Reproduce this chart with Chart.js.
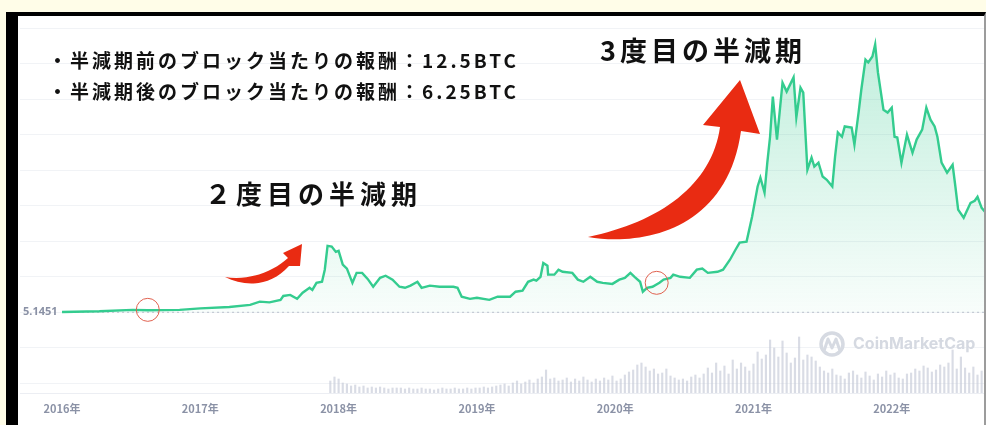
<!DOCTYPE html>
<html>
<head>
<meta charset="utf-8">
<script src="https://cdn.jsdelivr.net/npm/chart.js@4.4.1/dist/chart.umd.min.js"></script>
<style>
html, body { margin: 0; padding: 0; }
body {
    width: 986px; height: 425px; overflow: hidden; position: relative;
    background: #fffde8;
    font-family: "Noto Sans CJK JP", "Noto Sans", sans-serif;
}
#frame {
    position: absolute; left: 6px; top: 12px; width: 966px; height: 430px;
    background: #fff;
    border-left: 12px solid #000; border-top: 4px solid #000; border-right: 2px solid #9c9c9c;
}
#wrap { position: absolute; left: 18px; top: 16px; width: 966px; height: 409px; }
.note { position: absolute; white-space: nowrap; color: #111; font-weight: 700; line-height: 1; }
.reward { left: 48px; font-size: 19px; letter-spacing: 3px; }
#svg { position: absolute; left: 0; top: 0; pointer-events: none; }
#cmc { position: absolute; left: 853px; top: 335px; font-family: Inter, "Noto Sans", sans-serif;
       font-size: 16px; font-weight: 700; color: #d5d9e1; line-height: 1; }
</style>
</head>
<body>
<div id="frame"></div>
<div id="wrap"><canvas id="priceChart" width="966" height="409"></canvas></div>

<svg id="svg" width="986" height="425">
    <!-- 2度目 arrow -->
    <path d="M225,277 C245,287 270,287 289,266 L300,266 L302,244 L283,253 L288,258 C274,271 250,281 225,277 Z" fill="#e92b12"/>
    <!-- 3度目 arrow -->
    <path d="M588,237 C640,246 727,232 741,131 L760,134 L740,80 L703,125 L720,127 C712,185 660,222 588,237 Z" fill="#e92b12"/>
    <!-- watermark logo -->
    <circle cx="832" cy="344" r="11" fill="none" stroke="#d6dae2" stroke-width="3.5"/>
    <polyline points="824,351 828,339 832,348 836,339 840,351" fill="none" stroke="#d6dae2" stroke-width="3" stroke-linejoin="round"/>
</svg>

<div class="note reward" style="top:50px">・半減期前のブロック当たりの報酬：12.5BTC</div>
<div class="note reward" style="top:81px">・半減期後のブロック当たりの報酬：6.25BTC</div>
<div class="note" style="left:205px; top:180px; font-size:26px; letter-spacing:5px">２度目の半減期</div>
<div class="note" style="left:600px; top:36px; font-size:27px; letter-spacing:4px">3度目の半減期</div>
<div id="cmc">CoinMarketCap</div>

<script>
// x軸（年）
const yearTicks = [2016, 2017, 2018, 2019, 2020, 2021, 2022];
const yearLabels = ['2016年', '2017年', '2018年', '2019年', '2020年', '2021年', '2022年'];

// y軸グリッド（目盛り単位）と基準線
const gridLevels = [0, 1, 2, 3, 4, 5, 6, 7, 8, 9, 10];
const baseValue = 2;
const baseLabel = '5.1451';

// 価格ライン
const priceDates = [
    2016.00, 2016.27, 2016.51, 2016.62, 2016.85, 2017.00, 2017.21, 2017.36, 2017.43, 2017.50,
    2017.58, 2017.60, 2017.65, 2017.70, 2017.74, 2017.79, 2017.81, 2017.84, 2017.88, 2017.90,
    2017.92, 2017.95, 2017.98, 2018.00, 2018.03, 2018.06, 2018.10, 2018.13, 2018.17, 2018.21,
    2018.25, 2018.30, 2018.34, 2018.39, 2018.44, 2018.48, 2018.52, 2018.57, 2018.60, 2018.66,
    2018.73, 2018.83, 2018.86, 2018.89, 2018.95, 2019.00, 2019.09, 2019.15, 2019.24, 2019.28,
    2019.33, 2019.37, 2019.41, 2019.43, 2019.46, 2019.48, 2019.51, 2019.515, 2019.56, 2019.59,
    2019.62, 2019.69, 2019.73, 2019.77, 2019.82, 2019.87, 2019.91, 2019.98, 2020.03, 2020.07,
    2020.11, 2020.14, 2020.18, 2020.20, 2020.23, 2020.27, 2020.32, 2020.35, 2020.40, 2020.42,
    2020.47, 2020.54, 2020.59, 2020.63, 2020.67, 2020.74, 2020.78, 2020.83, 2020.87, 2020.90,
    2020.95, 2020.99, 2021.03, 2021.05, 2021.08, 2021.10, 2021.12, 2021.14, 2021.17, 2021.21,
    2021.24, 2021.29, 2021.31, 2021.34, 2021.36, 2021.39, 2021.42, 2021.44, 2021.47, 2021.50,
    2021.53, 2021.57, 2021.59, 2021.61, 2021.64, 2021.66, 2021.71, 2021.73, 2021.76, 2021.78,
    2021.81, 2021.83, 2021.86, 2021.88, 2021.90, 2021.94, 2021.97, 2022.00, 2022.02, 2022.04,
    2022.07, 2022.11, 2022.15, 2022.18, 2022.22, 2022.25, 2022.28, 2022.31, 2022.33, 2022.36,
    2022.40, 2022.44, 2022.46, 2022.48, 2022.52, 2022.54, 2022.57, 2022.60, 2022.62, 2022.65,
    2022.68
];
const priceValues = [
    2.01, 2.03, 2.07, 2.06, 2.07, 2.11, 2.15, 2.21, 2.30, 2.28,
    2.35, 2.46, 2.49, 2.38, 2.55, 2.69, 2.63, 2.83, 2.86, 3.20,
    3.87, 3.85, 3.70, 3.73, 3.34, 3.23, 2.83, 3.11, 3.11, 2.94,
    2.72, 2.97, 3.03, 2.92, 2.72, 2.69, 2.75, 2.86, 2.69, 2.75,
    2.72, 2.72, 2.69, 2.44, 2.38, 2.41, 2.35, 2.44, 2.44, 2.58,
    2.61, 2.86, 2.92, 2.89, 3.00, 3.39, 3.31, 3.06, 3.06, 3.20,
    3.14, 3.11, 2.92, 2.86, 3.00, 2.86, 2.83, 2.80, 2.92, 2.97,
    3.11, 3.00, 2.86, 2.58, 2.69, 2.72, 2.83, 2.92, 2.97, 3.06,
    3.00, 2.97, 3.20, 3.23, 3.11, 3.14, 3.20, 3.48, 3.76, 3.96,
    3.99, 4.69, 5.54, 5.79, 5.37, 6.21, 6.94, 8.07, 6.86, 8.46,
    8.21, 8.61, 7.49, 8.32, 8.18, 6.01, 6.35, 6.10, 6.21, 5.82,
    5.73, 5.54, 6.38, 7.06, 6.94, 7.23, 7.20, 6.72, 7.62, 8.27,
    9.11, 9.03, 9.20, 9.54, 8.75, 7.70, 7.62, 7.76, 6.94, 6.92,
    6.21, 7.00, 6.49, 6.86, 7.14, 7.76, 7.42, 7.23, 6.94, 6.21,
    5.93, 6.15, 5.54, 4.89, 4.66, 4.83, 5.08, 5.14, 5.25, 4.94,
    4.80
];

// 半減期（赤丸）
const halvingDates = [2016.62, 2020.30];
const halvingValues = [2.07, 2.83];

// 出来高
const volumeStart = 2017.94;
const volumeStep = 0.03;
const volumeValues = [
    12, 16, 14, 10,
    9, 7, 8, 6, 7, 5, 6, 5, 6, 5, 4, 5, 5,
    5, 4, 5, 4, 4, 5, 4, 4, 3, 4, 5, 4, 4, 5, 4, 4, 5, 4, 5, 5, 6, 5, 6, 7,
    8, 9, 7, 10, 12, 9, 11, 13, 10, 14,
    16, 23, 14, 15, 12,
    13, 15, 11, 14, 12, 16, 13, 11, 14, 12, 15, 13, 17, 12, 14,
    18, 21, 23, 28, 30, 26, 22, 24, 19,
    20, 24, 17, 15, 13, 14, 12, 16, 18, 15, 19,
    25, 20, 30, 22, 27, 19, 33,
    24, 30, 26, 22, 29,
    41, 34, 38, 53, 45, 36, 52, 40, 30, 35,
    56, 33, 38, 36, 32,
    26, 22, 20, 24, 18,
    17, 14, 20, 22, 18, 15, 21, 17, 13, 19, 16, 22, 18, 20, 15, 14, 19,
    20, 24, 22, 27, 25, 21, 23, 28, 26, 30, 43,
    24, 36, 25, 20, 26, 18, 22, 19, 23, 17
];

const xMin = 2015.696;
const xMax = 2022.667;

var ctx = document.getElementById('priceChart');
var priceChart = new Chart(ctx, {
    type: 'line',
    data: {
        datasets: [{
            // 赤丸
            data: halvingDates.map(function (d, i) { return { x: d, y: halvingValues[i] }; }),
            showLine: false,
            pointRadius: 11.5,
            pointBorderWidth: 1,
            pointBorderColor: '#e0614f',
            pointBackgroundColor: 'rgba(0,0,0,0)',
            order: 0
        }, {
            // 価格
            data: priceDates.map(function (d, i) { return { x: d, y: priceValues[i] }; }),
            borderColor: '#34cc8f',
            borderWidth: 2.4,
            pointRadius: 0,
            tension: 0,
            fill: { value: baseValue },
            backgroundColor: function (context) {
                const c = context.chart;
                if (!c.chartArea) return 'rgba(34,196,132,0.1)';
                const ys = c.scales.y;
                const g = c.ctx.createLinearGradient(0, ys.getPixelForValue(9.5), 0, ys.getPixelForValue(baseValue));
                g.addColorStop(0, 'rgba(34,196,132,0.28)');
                g.addColorStop(1, 'rgba(34,196,132,0.03)');
                return g;
            },
            order: 1
        }, {
            // 基準線（点線）
            data: [{ x: 2016.0, y: baseValue }, { x: xMax, y: baseValue }],
            borderColor: '#c6cbd6',
            borderWidth: 1.2,
            borderDash: [2, 3],
            pointRadius: 0,
            fill: false,
            order: 2
        }, {
            // 出来高
            type: 'bar',
            data: volumeValues.map(function (v, i) { return { x: volumeStart + i * volumeStep, y: v }; }),
            backgroundColor: 'rgba(196,201,215,0.65)',
            barThickness: 1.5,
            yAxisID: 'y2',
            order: 3
        }]
    },
    options: {
        responsive: false,
        animation: false,
        layout: { autoPadding: false, padding: { left: 2, top: 12, right: 0, bottom: 0 } },
        plugins: {
            legend: { display: false },
            tooltip: { enabled: false }
        },
        scales: {
            x: {
                type: 'linear',
                min: xMin,
                max: xMax,
                offset: false,
                afterBuildTicks: function (axis) {
                    axis.ticks = yearTicks.map(function (v) { return { value: v }; });
                },
                afterFit: function (axis) {
                    axis.height = 32;
                    axis.paddingLeft = 0;
                    axis.paddingRight = 0;
                },
                ticks: {
                    autoSkip: false,
                    maxRotation: 0,
                    padding: 9,
                    color: '#8b92a6',
                    font: { family: '"Noto Sans CJK JP"', size: 11, weight: 'bold' },
                    callback: function (value, index) { return yearLabels[index]; }
                },
                grid: { display: false, drawTicks: false, offset: false },
                border: { color: '#eceef3', width: 1 }
            },
            y: {
                type: 'linear',
                min: -0.27,
                max: 10,
                afterBuildTicks: function (axis) {
                    axis.ticks = gridLevels.map(function (v) { return { value: v }; });
                },
                afterFit: function (axis) {
                    axis.width = 0;
                    axis.paddingTop = 0;
                    axis.paddingBottom = 0;
                },
                ticks: {
                    mirror: true,
                    padding: 3,
                    color: '#8a91a5',
                    font: { family: '"Noto Sans"', size: 11, weight: 'bold' },
                    callback: function (value) { return value === baseValue ? baseLabel : ''; }
                },
                grid: { color: '#f1f3f6', lineWidth: 1, drawTicks: false },
                border: { display: false }
            },
            y2: {
                type: 'linear',
                display: false,
                min: 0,
                max: 365
            }
        }
    }
});
</script>
</body>
</html>
